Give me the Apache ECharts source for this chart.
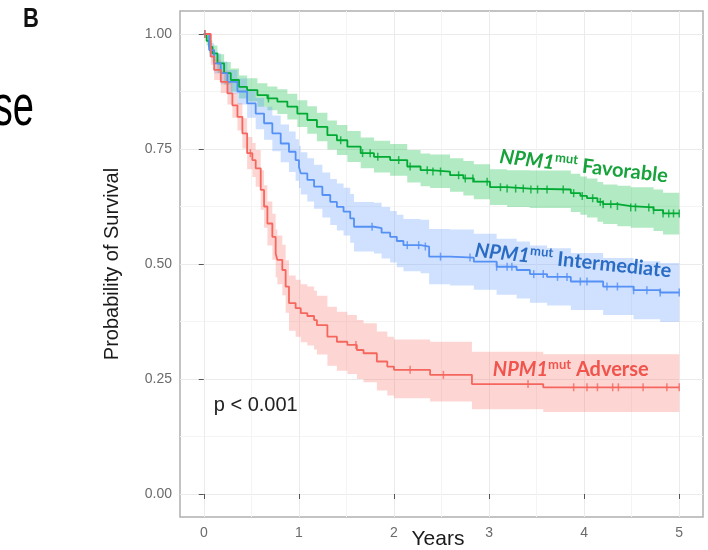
<!DOCTYPE html>
<html><head><meta charset="utf-8">
<script src="https://cdn.jsdelivr.net/npm/echarts@6/dist/echarts.min.js"></script>
<style>html,body{margin:0;padding:0;background:#fff}#c{width:708px;height:550px}</style>
</head><body><div id="c"></div>
<script>
// ---------- tick labels ----------
const xTicks = [0, 1, 2, 3, 4, 5];
const yTicks = [0, 0.25, 0.5, 0.75, 1];
const yTickLabels = ['0.00', '0.25', '0.50', '0.75', '1.00'];

// ---------- NPM1mut Favorable ----------
const favTime  = [0,0.03,0.056,0.091,0.144,0.214,0.284,0.371,0.456,0.564,0.669,0.774,0.879,0.984,1.089,1.19,1.30,1.40,1.51,1.65,1.79,1.96,2.14,2.28,2.38,2.59,2.73,2.84,3.01,3.19,3.43,3.86,3.96,4.03,4.14,4.20,4.35,4.49,4.73,4.83,5.00];
const favSurv  = [1,0.985,0.972,0.958,0.936,0.915,0.900,0.885,0.878,0.867,0.860,0.853,0.842,0.827,0.813,0.798,0.780,0.769,0.755,0.741,0.733,0.726,0.712,0.704,0.701,0.693,0.686,0.679,0.667,0.664,0.662,0.654,0.648,0.643,0.635,0.630,0.626,0.623,0.617,0.610,0.610];
const favUpper = [1,0.995,0.986,0.975,0.956,0.939,0.925,0.910,0.904,0.893,0.886,0.880,0.870,0.856,0.843,0.829,0.812,0.802,0.789,0.775,0.768,0.761,0.748,0.740,0.738,0.730,0.724,0.717,0.706,0.704,0.703,0.696,0.690,0.686,0.678,0.673,0.670,0.667,0.662,0.655,0.655];
const favLower = [1,0.975,0.958,0.940,0.915,0.890,0.875,0.860,0.853,0.842,0.834,0.826,0.814,0.798,0.783,0.767,0.749,0.737,0.722,0.708,0.699,0.692,0.677,0.669,0.665,0.657,0.649,0.641,0.628,0.624,0.622,0.613,0.607,0.601,0.592,0.587,0.582,0.579,0.572,0.564,0.564];
const favCensor = [0.01,0.68,1.44,1.67,1.75,1.83,2.05,2.17,2.35,2.41,2.49,2.68,2.75,2.83,2.98,3.12,3.19,3.28,3.36,3.44,3.51,3.61,3.78,3.89,3.98,4.09,4.17,4.20,4.28,4.35,4.49,4.54,4.68,4.73,4.83,4.89,4.94,5.00];

// ---------- NPM1mut Intermediate ----------
const intTime  = [0,0.056,0.109,0.179,0.249,0.354,0.456,0.546,0.634,0.721,0.809,0.896,0.966,1.001,1.02,1.089,1.16,1.247,1.33,1.40,1.47,1.54,1.58,1.79,1.87,1.96,2.03,2.10,2.28,2.37,2.59,2.84,3.08,3.29,3.43,3.61,3.86,4.20,4.52,4.80,5.00];
const intSurv  = [1,0.965,0.936,0.915,0.896,0.875,0.849,0.827,0.806,0.784,0.762,0.744,0.726,0.711,0.697,0.683,0.668,0.650,0.635,0.624,0.614,0.599,0.581,0.578,0.568,0.559,0.550,0.541,0.538,0.516,0.514,0.505,0.494,0.487,0.478,0.472,0.462,0.451,0.443,0.438,0.438];
const intUpper = [1,0.980,0.958,0.940,0.922,0.903,0.880,0.861,0.842,0.823,0.803,0.788,0.771,0.757,0.743,0.730,0.716,0.699,0.685,0.675,0.666,0.652,0.635,0.633,0.624,0.615,0.607,0.598,0.596,0.576,0.575,0.566,0.555,0.549,0.540,0.534,0.524,0.513,0.506,0.502,0.502];
const intLower = [1,0.950,0.914,0.890,0.870,0.847,0.818,0.793,0.770,0.745,0.721,0.700,0.681,0.665,0.651,0.636,0.620,0.601,0.585,0.573,0.562,0.546,0.527,0.523,0.512,0.503,0.493,0.484,0.480,0.456,0.453,0.444,0.433,0.425,0.416,0.410,0.400,0.389,0.380,0.374,0.374];
const intCensor = [0.01,1.77,2.14,2.26,2.33,2.49,2.80,3.08,3.19,3.24,3.47,3.57,3.72,3.82,3.96,4.03,4.24,4.35,4.52,4.66,4.80,5.00];

// ---------- NPM1mut Adverse ----------
const advTime  = [0,0.074,0.109,0.179,0.249,0.301,0.354,0.406,0.456,0.511,0.546,0.599,0.634,0.669,0.721,0.756,0.774,0.826,0.861,0.896,0.966,1.02,1.089,1.16,1.19,1.30,1.40,1.51,1.61,1.68,1.82,1.93,2.00,2.38,2.82,3.57,5.00];
const advSurv  = [1,0.951,0.922,0.896,0.871,0.845,0.820,0.784,0.741,0.726,0.708,0.661,0.625,0.588,0.559,0.523,0.509,0.487,0.451,0.415,0.404,0.393,0.387,0.378,0.367,0.342,0.331,0.324,0.313,0.306,0.288,0.277,0.270,0.259,0.239,0.232,0.232];
const advUpper = [1,0.969,0.944,0.920,0.895,0.872,0.850,0.817,0.776,0.763,0.748,0.704,0.671,0.636,0.609,0.575,0.562,0.542,0.508,0.475,0.466,0.456,0.451,0.442,0.431,0.407,0.396,0.389,0.378,0.371,0.353,0.342,0.336,0.331,0.309,0.304,0.304];
const advLower = [1,0.933,0.900,0.872,0.847,0.818,0.790,0.751,0.706,0.689,0.668,0.618,0.579,0.540,0.509,0.471,0.456,0.432,0.394,0.355,0.342,0.330,0.323,0.314,0.303,0.279,0.268,0.261,0.250,0.243,0.225,0.214,0.208,0.201,0.184,0.178,0.178];
const advCensor = [0.01,0.49,1.60,2.17,2.52,3.41,3.89,4.03,4.14,4.30,4.36,4.62,4.87,5.00];

// ---------- helpers ----------
function stepAt(times, vals, x) {
  let v = vals[0];
  for (let i = 0; i < times.length; i++) if (times[i] <= x) v = vals[i];
  return v;
}
function bandSeries(times, upper, lower, bandColor) {
  return {
    type: 'custom', silent: true, z: 1, clip: true,
    data: [[times[0], upper[0]]],
    renderItem: function (params, api) {
      const pts = [];
      for (let i = 0; i < times.length; i++) {
        pts.push(api.coord([times[i], upper[i]]));
        if (i + 1 < times.length) pts.push(api.coord([times[i + 1], upper[i]]));
      }
      for (let i = times.length - 1; i >= 0; i--) {
        if (i + 1 < times.length) pts.push(api.coord([times[i + 1], lower[i]]));
        pts.push(api.coord([times[i], lower[i]]));
      }
      return { type: 'polygon', shape: { points: pts }, style: { fill: bandColor } };
    }
  };
}
function groupSeries(key, times, surv, upper, lower, censor, lineColor, bandColor) {
  return [
    bandSeries(times, upper, lower, bandColor),
    { type: 'line', name: key, step: 'end', symbol: 'none', silent: true,
      lineStyle: { width: 1.8, color: lineColor }, z: 3,
      data: times.map((t, i) => [t, surv[i]]) },
    { type: 'scatter', name: key + '_censor', symbol: 'rect', symbolSize: [1.5, 8], silent: true,
      itemStyle: { color: lineColor }, z: 4,
      data: censor.map(c => [c, stepAt(times, surv, c)]) }
  ];
}

const FONT = "'Liberation Sans', Arial, sans-serif";
const chart = echarts.init(document.getElementById('c'), null, { renderer: 'canvas' });

const option = {
  animation: false,
  backgroundColor: '#ffffff',
  grid: { left: 180, top: 11, right: 5, bottom: 33, show: true, borderColor: '#b0b0b0', borderWidth: 1.5,
          backgroundColor: '#ffffff', outerBoundsMode: 'none', containLabel: false },
  xAxis: [
    { type: 'value', position: 'top', min: -0.25, max: 5.25, interval: 0.25,
      axisLine: { show: false }, axisTick: { show: false }, axisLabel: { show: false },
      splitLine: { show: true, lineStyle: { width: 1, color: ['rgba(0,0,0,0)', '#ebebeb', 'rgba(0,0,0,0)', '#f4f4f4'] } } },
    { type: 'value', position: 'bottom', min: -0.25, max: 5.25,
      axisLine: { show: false }, splitLine: { show: false },
      axisTick: { show: true, customValues: xTicks, length: 5, lineStyle: { color: '#555', width: 1 } },
      axisLabel: { show: true, customValues: xTicks, margin: 9, fontSize: 14, color: '#6b6b6b', fontFamily: FONT,
                   formatter: v => String(v) },
      name: 'Years', nameLocation: 'middle', nameGap: 12, nameMoveOverlap: false,
      nameTextStyle: { fontSize: 21, color: '#1a1a1a', fontFamily: FONT, padding: [0, 7, 0, 0] } }
  ],
  yAxis: [
    { type: 'value', position: 'right', min: -0.05, max: 1.05, interval: 0.025,
      axisLine: { show: false }, axisTick: { show: false }, axisLabel: { show: false },
      splitLine: { show: true, lineStyle: { width: 1, color: ['rgba(0,0,0,0)', 'rgba(0,0,0,0)', '#ebebeb', 'rgba(0,0,0,0)', 'rgba(0,0,0,0)', 'rgba(0,0,0,0)', 'rgba(0,0,0,0)', '#f4f4f4', 'rgba(0,0,0,0)', 'rgba(0,0,0,0)'] } } },
    { type: 'value', position: 'left', min: -0.05, max: 1.05,
      axisLine: { show: false }, splitLine: { show: false },
      axisTick: { show: true, customValues: yTicks, length: 5, lineStyle: { color: '#555', width: 1 } },
      axisLabel: { show: true, customValues: yTicks, margin: 8, fontSize: 14, color: '#6b6b6b', fontFamily: FONT,
                   formatter: v => yTickLabels[yTicks.findIndex(t => Math.abs(t - v) < 1e-6)] },
      name: 'Probability of Survival', nameLocation: 'middle', nameGap: 58, nameRotate: 90, nameMoveOverlap: false,
      nameTextStyle: { fontSize: 20, color: '#1a1a1a', fontFamily: FONT } }
  ],
  series: [
    ...groupSeries('fav', favTime, favSurv, favUpper, favLower, favCensor, '#00AA33', 'rgba(0,186,56,0.30)'),
    ...groupSeries('int', intTime, intSurv, intUpper, intLower, intCensor, '#5590F5', 'rgba(97,156,255,0.30)'),
    ...groupSeries('adv', advTime, advSurv, advUpper, advLower, advCensor, '#F5675E', 'rgba(248,118,109,0.30)')
  ]
};
chart.setOption(option);

// ---------- annotations anchored to data coordinates ----------
function px(t, s) { return chart.convertToPixel({ xAxisIndex: 0, yAxisIndex: 0 }, [t, s]); }
function groupLabel(word, color, pos, rot) {
  return {
    type: 'text', x: pos[0], y: pos[1], rotation: rot, z: 10,
    style: {
      text: '{i|NPM1}{s|mut}{b| ' + word + '}',
      align: 'left', verticalAlign: 'bottom',
      rich: {
        i: { fill: color, fontFamily: 'Lato', fontWeight: 'bold', fontStyle: 'italic', fontSize: 20, lineHeight: 22, verticalAlign: 'bottom' },
        s: { fill: color, fontFamily: 'Lato', fontWeight: 'bold', fontSize: 13, lineHeight: 13, verticalAlign: 'top' },
        b: { fill: color, fontFamily: 'Lato', fontWeight: 'bold', fontSize: 20, lineHeight: 22, verticalAlign: 'bottom' }
      }
    }
  };
}
const pP = px(0.105, 0.17);
chart.setOption({
  graphic: [
    groupLabel('Favorable', '#17A23B', px(3.10, 0.712), -0.115),
    groupLabel('Intermediate', '#2A6CC4', px(2.84, 0.508), -0.105),
    groupLabel('Adverse', '#F0544C', px(3.04, 0.248), 0),
    { type: 'text', x: pP[0], y: pP[1], z: 10,
      style: { text: 'p < 0.001', fill: '#222', fontFamily: FONT, fontSize: 20, align: 'left', verticalAlign: 'bottom' } },
    { type: 'text', x: 23, y: 33, scaleY: 1.25, z: 10,
      style: { text: 'B', fill: '#111', fontFamily: FONT, fontWeight: 'bold', fontSize: 22, align: 'left', verticalAlign: 'bottom' } },
    { type: 'text', x: 34, y: 138, scaleY: 1.5, z: 10,
      style: { text: 'se', fill: '#000', fontFamily: FONT, fontSize: 38, align: 'right', verticalAlign: 'bottom' } }
  ]
});
</script>
</body></html>
